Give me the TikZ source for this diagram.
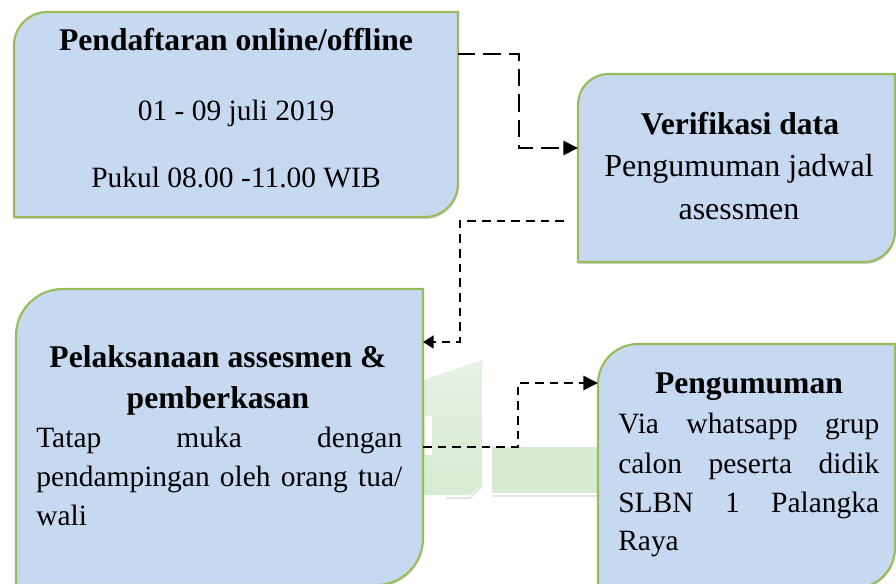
\documentclass[tikz,border=0pt]{standalone}
\usepackage{fontspec}
\setmainfont{Liberation Serif}
\usetikzlibrary{arrows.meta,shadows,fit}

\definecolor{boxfill}{HTML}{C6D9F1}
\definecolor{boxedge}{HTML}{9BBB59}
\definecolor{wmgreen}{HTML}{D6EBD1}
\definecolor{wmlight}{HTML}{E6F1E3}
\definecolor{wmedge}{HTML}{E4E6E3}

\tikzset{
  area/.style={inner sep=0pt, outer sep=0pt},
  boxline/.style={draw=boxedge, line width=1.6pt, fill=boxfill,
    drop shadow={shadow xshift=0.3pt, shadow yshift=-1.6pt, opacity=0.35}},
  body/.style={font=\fontsize{22.1pt}{29pt}\selectfont, inner sep=0pt},
  bigbody/.style={font=\fontsize{24pt}{30pt}\selectfont, inner sep=0pt, anchor=base},
  head/.style={font=\fontsize{23.7pt}{30pt}\selectfont\bfseries, anchor=base, inner sep=0pt},
  longdash/.style={line width=2pt, dash pattern=on 13pt off 6pt},
  shortdash/.style={line width=2pt, dash pattern=on 6.5pt off 4.5pt},
  tip/.style={-{Triangle[length=11pt,width=10.5pt]}},
  smalltip/.style={-{Triangle[length=8pt,width=9.5pt]}},
}

% box with rounded top-left and bottom-right corners
% (a corner is rounded when the segment leading into it is rounded)
\newcommand\diagbox[2]{%
  \path[boxline] (#1.north) [sharp corners] -- (#1.north east)
    [rounded corners=#2] -- (#1.south east)
    [sharp corners] -- (#1.south west)
    [rounded corners=#2] -- (#1.north west)
    [sharp corners] -- cycle;}

\begin{document}
\begin{tikzpicture}[x=0.75pt, y=-0.75pt]
\useasboundingbox (0,0) rectangle (896,583);
\clip (0,0) rectangle (896,583);

% faint background emblem
\draw[wmedge, line width=1.5pt] (446,498) -- (470,498) -- (482,486);
\draw[wmedge, line width=1.5pt] (492,496) -- (597,496);
\shade[top color=wmlight, bottom color=wmgreen]
  (423,380) -- (482,360) -- (482,484) -- (470,495) -- (423,495) -- cycle;
\fill[white] (425,416) rectangle (432,455);
\fill[wmgreen] (492,447) rectangle (597,493);

% box areas
\node[area, fit={(14,12) (458,217)}] (b1) {};
\node[area, fit={(578,74) (895,262)}] (b2) {};
\node[area, fit={(16,289) (423,585)}] (b3) {};
\node[area, fit={(598,344) (895,588)}] (b4) {};

\diagbox{b1}{25pt}
\diagbox{b2}{23pt}
\diagbox{b3}{35pt}
\diagbox{b4}{30pt}

% texts
\node[head] (t1) at (236,50) {Pendaftaran online/offline};
\node[body, anchor=base] (t1b) at (236,120) {01 - 09 juli 2019};
\node[body, anchor=base] (t1c) at (236,187) {Pukul 08.00 -11.00 WIB};

\node[head] (t2) at (740,134) {Verifikasi data};
\node[bigbody] (t2b) at (739,176) {Pengumuman jadwal};
\node[bigbody] (t2c) at (739,219) {asessmen};

\node[head] (t3) at (218,367) {Pelaksanaan assesmen \&};
\node[head] (t3b) at (218,408) {pemberkasan};
\node[body, anchor=base west] (t3c) at (36,447) {\makebox[274.5pt][s]{Tatap muka dengan}};
\node[body, anchor=base west] (t3d) at (36,486) {\makebox[274.5pt][s]{pendampingan oleh orang tua/}};
\node[body, anchor=base west] (t3e) at (36,525) {wali};

\node[head] (t4) at (749,393) {Pengumuman};
\node[body, anchor=base west] (t4b) at (618,433) {\makebox[195.75pt][s]{Via whatsapp grup}};
\node[body, anchor=base west] (t4c) at (618,473) {\makebox[195.75pt][s]{calon peserta didik}};
\node[body, anchor=base west] (t4d) at (618,512) {\makebox[195.75pt][s]{SLBN 1 Palangka}};
\node[body, anchor=base west] (t4e) at (618,550) {Raya};

% connectors
\coordinate (k1a) at (519,54);
\coordinate (k1b) at (519,148);
\draw[longdash, tip] (b1.east |- k1a) -- (k1a) -- (k1b) -- (b2.west |- k1b);

\coordinate (k2s) at (564,221);
\coordinate (k2a) at (460,221);
\coordinate (k2b) at (460,342);
\draw[shortdash, smalltip] (k2s) -- (k2a) -- (k2b) -- (b3.east |- k2b);

\coordinate (k3a) at (518,447);
\coordinate (k3b) at (518,383);
\draw[shortdash, tip] (b3.east |- k3a) -- (k3a) -- (k3b) -- (b4.west |- k3b);
\end{tikzpicture}
\end{document}
